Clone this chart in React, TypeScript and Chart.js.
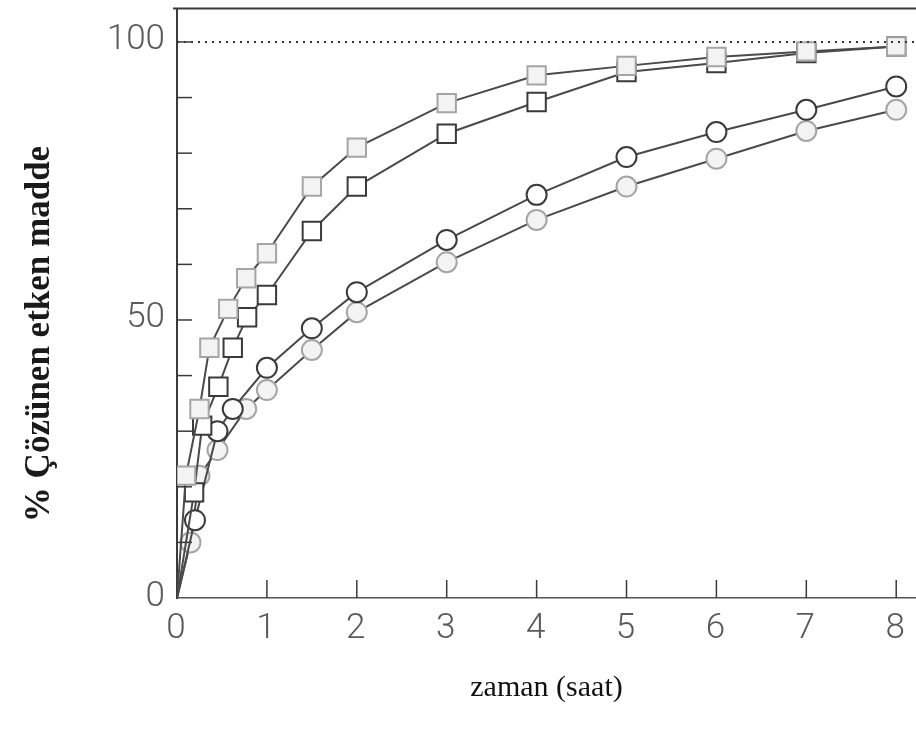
import React, { useEffect, useRef } from "react";
import { Chart, registerables } from "chart.js";

Chart.register(...registerables);

// Time (hours) and % dissolved
const lightSquareX = [0, 0.1, 0.25, 0.36, 0.57, 0.77, 1, 1.5, 2, 3, 4, 5, 6, 7, 8];
const lightSquareY = [0, 22, 34, 45, 52, 57.5, 62, 74, 81, 89, 94, 95.7, 97.3, 98.3, 99.2];

const darkSquareX = [0, 0.19, 0.28, 0.46, 0.62, 0.78, 1, 1.5, 2, 3, 4, 5, 6, 7, 8];
const darkSquareY = [0, 19, 31, 38, 45, 50.5, 54.5, 66, 74, 83.5, 89.2, 94.6, 96.2, 98, 99.2];

const darkCircleX = [0, 0.2, 0.45, 0.62, 1, 1.5, 2, 3, 4, 5, 6, 7, 8];
const darkCircleY = [0, 14, 30, 34, 41.4, 48.5, 55, 64.4, 72.5, 79.3, 83.8, 87.8, 92];

const lightCircleX = [0, 0.15, 0.25, 0.45, 0.77, 1, 1.5, 2, 3, 4, 5, 6, 7, 8];
const lightCircleY = [0, 10, 22, 26.6, 34, 37.4, 44.6, 51.4, 60.4, 68, 74, 79, 84, 87.8];

const referenceX = [0, 8.22];
const referenceY = [100, 100];

const xTickValues = [0, 1, 2, 3, 4, 5, 6, 7, 8];
const yTickValues = [10, 20, 30, 40, 50, 60, 70, 80, 90, 100];
const yLabelValues = [0, 50, 100];

const xTitle = "zaman (saat)";
const yTitle = "% Çözünen etken madde";

const TICK_FONT = "300 35px Roboto, 'DejaVu Sans', sans-serif";
const SERIF = "'Liberation Serif', 'DejaVu Serif', serif";

const pts = (xs: number[], ys: number[]) => xs.map((x, i) => ({ x, y: ys[i] }));
const radii = (xs: number[], r: number) => xs.map((x) => (x === 0 ? 0 : r));

const decorPlugin = {
  id: "decor",
  afterDraw(chart: any) {
    const { ctx, chartArea, scales } = chart;
    const xs = scales.x;
    const ys = scales.y;
    ctx.save();
    ctx.strokeStyle = "#3a3a3a";
    // top frame line
    ctx.lineWidth = 2;
    ctx.beginPath();
    ctx.moveTo(chartArea.left - 4, chartArea.top);
    ctx.lineTo(chart.width, chartArea.top);
    ctx.stroke();
    // y ticks (inward)
    ctx.lineWidth = 1.5;
    for (const v of yTickValues) {
      const py = ys.getPixelForValue(v);
      ctx.beginPath();
      ctx.moveTo(chartArea.left, py);
      ctx.lineTo(chartArea.left + 15, py);
      ctx.stroke();
    }
    // x ticks (upward)
    for (const v of xTickValues) {
      if (v === 0) continue;
      const px = xs.getPixelForValue(v);
      ctx.beginPath();
      ctx.moveTo(px, chartArea.bottom);
      ctx.lineTo(px, chartArea.bottom - 18);
      ctx.stroke();
    }
    // tick labels
    ctx.fillStyle = "#5a5a5a";
    ctx.font = TICK_FONT;
    ctx.textBaseline = "alphabetic";
    ctx.textAlign = "right";
    for (const v of yLabelValues) {
      ctx.fillText(String(v), chartArea.left - 12, ys.getPixelForValue(v) + 7.5);
    }
    ctx.textAlign = "center";
    for (const v of xTickValues) {
      ctx.fillText(String(v), xs.getPixelForValue(v) - 1, chartArea.bottom + 40);
    }
    // y title
    ctx.translate(40, 334);
    ctx.rotate(-Math.PI / 2);
    ctx.fillStyle = "#1a1a1a";
    ctx.font = `bold 35px ${SERIF}`;
    ctx.textAlign = "center";
    ctx.textBaseline = "middle";
    ctx.fillText(yTitle, 0, 0);
    ctx.restore();
  },
};

export default function App() {
  const ref = useRef<HTMLCanvasElement | null>(null);

  useEffect(() => {
    document.body.style.margin = "0";
    const canvas = ref.current;
    if (!canvas) return;
    const lineColor = "#4a4a4a";
    const chart = new Chart(canvas, {
      type: "line",
      data: {
        datasets: [
          {
            data: pts(referenceX, referenceY),
            borderColor: "#333",
            borderWidth: 2,
            borderDash: [2, 5],
            pointRadius: 0,
          },
          {
            data: pts(lightSquareX, lightSquareY),
            borderColor: lineColor,
            borderWidth: 2,
            pointStyle: "rect",
            pointRadius: radii(lightSquareX, 13),
            pointBorderColor: "#a5a5a5",
            pointBackgroundColor: "#f3f3f3",
            pointBorderWidth: 2,
          },
          {
            data: pts(darkSquareX, darkSquareY),
            borderColor: lineColor,
            borderWidth: 2,
            pointStyle: "rect",
            pointRadius: radii(darkSquareX, 13),
            pointBorderColor: "#3a3a3a",
            pointBackgroundColor: "#ffffff",
            pointBorderWidth: 2,
          },
          {
            data: pts(darkCircleX, darkCircleY),
            borderColor: lineColor,
            borderWidth: 2,
            pointStyle: "circle",
            pointRadius: radii(darkCircleX, 10),
            pointBorderColor: "#3a3a3a",
            pointBackgroundColor: "#ffffff",
            pointBorderWidth: 2,
          },
          {
            data: pts(lightCircleX, lightCircleY),
            borderColor: lineColor,
            borderWidth: 2,
            pointStyle: "circle",
            pointRadius: radii(lightCircleX, 10),
            pointBorderColor: "#a5a5a5",
            pointBackgroundColor: "#f3f3f3",
            pointBorderWidth: 2,
          },
        ],
      },
      options: {
        responsive: false,
        animation: false,
        layout: { autoPadding: false, padding: { top: 8.6, right: 0, left: 0, bottom: 0 } },
        plugins: { legend: { display: false }, tooltip: { enabled: false } },
        elements: { line: { tension: 0 } },
        scales: {
          x: {
            type: "linear",
            min: 0,
            max: 8.22,
            grid: { display: false, drawTicks: false },
            border: { display: true, color: "#555", width: 1.5 },
            ticks: { display: false, stepSize: 1 },
            title: {
              display: true,
              text: xTitle,
              color: "#111",
              font: { family: SERIF, size: 30 },
              padding: { top: 0, bottom: 34 },
            },
            afterFit: (s: any) => {
              s.height = 142;
            },
          },
          y: {
            type: "linear",
            min: 0,
            max: 106,
            grid: { display: false, drawTicks: false },
            border: { display: true, color: "#3a3a3a", width: 2 },
            ticks: { display: false, stepSize: 10 },
            afterFit: (s: any) => {
              s.width = 177;
            },
          },
        },
      },
      plugins: [decorPlugin],
    });
    return () => chart.destroy();
  }, []);

  return (
    <div style={{ width: 916, height: 740, background: "#fff" }}>
      <canvas ref={ref} width={916} height={740} style={{ display: "block" }} />
    </div>
  );
}
